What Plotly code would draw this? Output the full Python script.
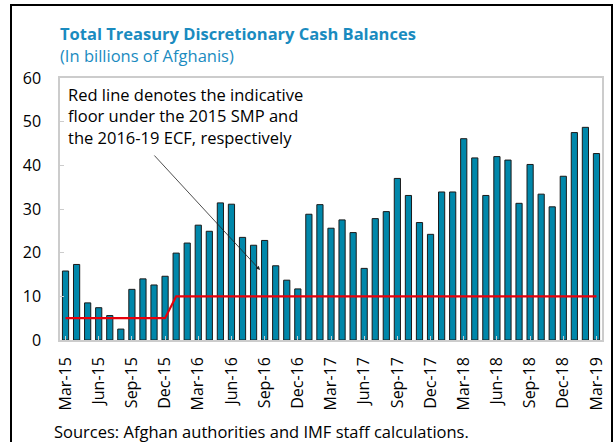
import plotly.graph_objects as go

months = ["Mar-15","Apr-15","May-15","Jun-15","Jul-15","Aug-15","Sep-15","Oct-15","Nov-15","Dec-15",
          "Jan-16","Feb-16","Mar-16","Apr-16","May-16","Jun-16","Jul-16","Aug-16","Sep-16","Oct-16","Nov-16","Dec-16",
          "Jan-17","Feb-17","Mar-17","Apr-17","May-17","Jun-17","Jul-17","Aug-17","Sep-17","Oct-17","Nov-17","Dec-17",
          "Jan-18","Feb-18","Mar-18","Apr-18","May-18","Jun-18","Jul-18","Aug-18","Sep-18","Oct-18","Nov-18","Dec-18",
          "Jan-19","Feb-19","Mar-19"]
balances = [15.8, 17.3, 8.5, 7.4, 5.6, 2.5, 11.6, 14.0, 12.6, 14.6,
            19.9, 22.2, 26.3, 24.9, 31.4, 31.1, 23.5, 21.7, 22.8, 17.0, 13.7, 11.7,
            28.8, 31.0, 25.6, 27.5, 24.6, 16.4, 27.8, 29.4, 37.0, 33.1, 26.9, 24.2,
            33.9, 33.9, 46.1, 41.7, 33.1, 42.0, 41.2, 31.3, 40.2, 33.4, 30.5, 37.5,
            47.5, 48.7, 42.7]
floor = [5]*10 + [10]*39
tick_labels = months[::3]
y_ticks = [0, 10, 20, 30, 40, 50, 60]

FONT = "Open Sans"
BLUE = "#1a8bbf"

# plot area in page pixels: left 60, right 602, top 78, bottom 340
L, R, T, B = 60, 602, 78, 340
W, H = 613, 442
def px(x):
    return (x - L) / (R - L)
def py(y):
    return (B - y) / (B - T)

fig = go.Figure()
fig.add_trace(go.Bar(x=months, y=balances, width=0.56,
                     marker=dict(color="#0087aa", line=dict(color="#1a1a1a", width=1)),
                     showlegend=False))
fig.add_trace(go.Scatter(x=months, y=floor, mode="lines",
                         line=dict(color="#e8000b", width=2.2), showlegend=False))

fig.update_layout(
    width=W, height=H,
    margin=dict(l=L, r=W - R, t=T, b=H - B, autoexpand=False),
    paper_bgcolor="white", plot_bgcolor="white",
    font=dict(family=FONT, size=16, color="black"),
    xaxis=dict(type="category", range=[-0.5, 48.5], tickmode="array",
               tickvals=tick_labels, ticktext=tick_labels, tickangle=-90,
               showgrid=False, showline=True, linecolor="#cccccc", linewidth=1.5, mirror=True,
               ticks="inside", ticklen=4, tickcolor="#cccccc", ticklabelstandoff=9,
               tickfont=dict(family=FONT, size=16, color="black")),
    yaxis=dict(range=[0, 60], tickmode="array", tickvals=y_ticks,
               showgrid=False, showline=True, linecolor="#cccccc", linewidth=1.5, mirror=True,
               ticks="inside", ticklen=4, tickcolor="#cccccc", zeroline=False, ticklabelstandoff=14,
               tickfont=dict(family=FONT, size=16, color="black")),
    annotations=[
        dict(xref="paper", yref="paper", x=px(58), y=py(33), xanchor="left", yanchor="middle",
             text="<b>Total Treasury Discretionary Cash Balances</b>", showarrow=False,
             font=dict(family=FONT, size=16.5, color=BLUE)),
        dict(xref="paper", yref="paper", x=px(58), y=py(56), xanchor="left", yanchor="middle",
             text="(In billions of Afghanis)", showarrow=False,
             font=dict(family=FONT, size=16.5, color=BLUE)),
        dict(xref="paper", yref="paper", x=px(66), y=py(116), xanchor="left", yanchor="middle",
             text="Red line denotes the indicative<br>floor under the 2015 SMP and<br>the 2016-19 ECF, respectively",
             align="left", showarrow=False,
             font=dict(family=FONT, size=16.5, color="black")),
        dict(xref="paper", yref="paper", x=px(260), y=py(270),
             ax=-107, ay=-116, axref="pixel", ayref="pixel",
             text="", showarrow=True, arrowhead=2, arrowsize=1, arrowwidth=0.8, arrowcolor="#222222"),
        dict(xref="paper", yref="paper", x=px(52), y=py(431), xanchor="left", yanchor="middle",
             text="Sources: Afghan authorities and IMF staff calculations.", showarrow=False,
             font=dict(family=FONT, size=16.5, color="black")),
    ],
    shapes=[
        dict(type="line", xref="paper", yref="paper", x0=px(10), x1=px(613),
             y0=py(5), y1=py(5), line=dict(color="black", width=2)),
        dict(type="line", xref="paper", yref="paper", x0=px(11), x1=px(11),
             y0=py(4), y1=py(445), line=dict(color="black", width=2)),
        dict(type="line", xref="paper", yref="paper", x0=px(612), x1=px(612),
             y0=py(4), y1=py(445), line=dict(color="black", width=2)),
    ],
)

fig.write_html("out.html", config={"displayModeBar": False},
               post_script="document.body.style.margin='0';")
